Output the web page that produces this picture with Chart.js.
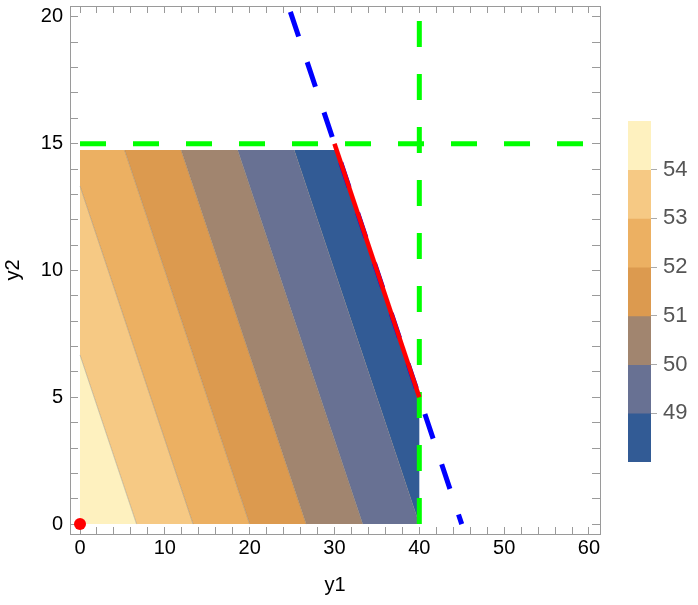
<!DOCTYPE html>
<html>
<head>
<meta charset="UTF-8">
<title>Contour y1 y2</title>
<script src="https://cdn.jsdelivr.net/npm/chart.js"></script>
<style>
  body { margin: 0; background: #fff; }
  #main { position: absolute; left: 0; top: 0; width: 610px; height: 605px; }
  #bar { position: absolute; left: 610px; top: 100px; width: 88px; height: 380px; }
</style>
</head>
<body>
<div id="main"><canvas id="plot"></canvas></div>
<div id="bar"><canvas id="legend"></canvas></div>

<script>
// colour bar: band limits and colours, light to dark
const legendTicks = [49, 50, 51, 52, 53, 54];
const bandLow  = [54, 53, 52, 51, 50, 49, 48];
const bandHigh = [55, 54, 53, 52, 51, 50, 49];
const bandColors = ['#fef1bf', '#f6c984', '#ecb062', '#dc9a4f', '#a1856f', '#687193', '#325b95'];

// band edges in the plot, as values of y1 + y2
const edgeSums = [0, 6.67, 13.33, 20, 26.67, 33.33, 40, 45];

// shaded region
const regionY1 = [0, 40];
const regionY2 = [0, 14.75];

// constraint lines
const capY2X = [0, 60],   capY2Y = [15, 15];
const capY1X = [40, 40],  capY1Y = [0, 20];
const sumX = [24.8, 45],  sumY = [20.2, 0];
const edgeX = [30, 40],   edgeY = [15, 5];
const optX = [0],         optY = [0];

// axis ticks
const xLabels = [0, 10, 20, 30, 40, 50, 60];
const yLabels = [0, 5, 10, 15, 20];
const xTicks = [], yTicks = [];
for (let v = 0; v <= 60; v += 2) xTicks.push(v);
for (let v = 0; v <= 20; v += 1) yTicks.push(v);

Chart.defaults.font.family = "'Liberation Sans', Arial, sans-serif";

const pts = (xs, ys) => xs.map((x, i) => ({ x: x, y: ys[i] }));

// cut a polygon with the line y1 + y2 = c
function clipSum(poly, c, keepAbove) {
  const out = [];
  for (let i = 0; i < poly.length; i++) {
    const p = poly[i], q = poly[(i + 1) % poly.length];
    const sp = p.x + p.y - c, sq = q.x + q.y - c;
    const inP = keepAbove ? sp >= 0 : sp <= 0;
    const inQ = keepAbove ? sq >= 0 : sq <= 0;
    if (inP) out.push(p);
    if (inP !== inQ) {
      const t = sp / (sp - sq);
      out.push({ x: p.x + t * (q.x - p.x), y: p.y + t * (q.y - p.y) });
    }
  }
  return out;
}

const rect = pts([regionY1[0], regionY1[1], regionY1[1], regionY1[0]],
                 [regionY2[0], regionY2[0], regionY2[1], regionY2[1]]);

const datasets = [];

datasets.push({ data: pts(optX, optY), showLine: false, pointRadius: 6, pointBackgroundColor: '#ff0000', pointBorderWidth: 0, order: 0 });
datasets.push({ data: pts(edgeX, edgeY), borderColor: '#ff0000', borderWidth: 4.5, pointRadius: 0, order: 1 });
datasets.push({ data: pts(sumX, sumY), borderColor: '#0000ff', borderWidth: 5, borderDash: [26, 27], pointRadius: 0, order: 2 });
datasets.push({ data: pts(capY2X, capY2Y), borderColor: '#00ff00', borderWidth: 5, borderDash: [26, 27], pointRadius: 0, order: 3 });
datasets.push({ data: pts(capY1X, capY1Y), borderColor: '#00ff00', borderWidth: 5, borderDash: [26, 27], pointRadius: 0, order: 3 });

// thin contour lines between bands
for (let i = 1; i < edgeSums.length - 1; i++) {
  const c = edgeSums[i];
  const top = Math.min(c, regionY2[1]);
  datasets.push({
    data: [{ x: c - top, y: top }, { x: Math.min(c, regionY1[1]), y: c - Math.min(c, regionY1[1]) }],
    borderColor: 'rgba(110,110,110,0.35)', borderWidth: 1, pointRadius: 0, order: 4
  });
}

// filled bands
for (let i = 0; i < bandColors.length; i++) {
  let poly = clipSum(clipSum(rect, edgeSums[i], true), edgeSums[i + 1], false);
  poly.push(poly[0]);
  datasets.push({
    data: poly, borderWidth: 0, borderColor: bandColors[i], backgroundColor: bandColors[i],
    fill: 'shape', pointRadius: 0, order: 5
  });
}

const frame = '#9a9a9a';
const tickSet = (list) => (s) => { s.ticks = list.map(v => ({ value: v })); };
const fitSize = (prop, size) => (s) => {
  s[prop] = size;
  s.paddingTop = 0; s.paddingBottom = 0; s.paddingLeft = 0; s.paddingRight = 0;
};

new Chart(document.getElementById('plot'), {
  type: 'line',
  data: { datasets: datasets },
  options: {
    responsive: true,
    maintainAspectRatio: false,
    animation: false,
    layout: { padding: { top: 4, right: 10, left: 0, bottom: 0 } },
    plugins: { legend: { display: false }, tooltip: { enabled: false } },
    scales: {
      x: {
        type: 'linear', position: 'bottom', min: -1.18, max: 61.3,
        afterBuildTicks: tickSet(xTicks),
        afterFit: fitSize('height', 71),
        ticks: { callback: v => xLabels.includes(v) ? String(v) : '', color: '#000', font: { size: 20 }, padding: 9, maxRotation: 0, autoSkip: false },
        grid: { drawOnChartArea: false, tickLength: -7, tickColor: frame },
        border: { color: frame },
        title: { display: true, text: 'y1', color: '#000', font: { size: 20 }, padding: { top: 0, bottom: 8 } }
      },
      xTop: {
        type: 'linear', position: 'top', min: -1.18, max: 61.3,
        afterBuildTicks: tickSet(xTicks),
        afterFit: fitSize('height', 0),
        ticks: { display: false },
        grid: { drawOnChartArea: false, tickLength: -7, tickColor: frame },
        border: { color: frame }
      },
      y: {
        type: 'linear', position: 'left', min: -0.39, max: 20.43,
        afterBuildTicks: tickSet(yTicks),
        afterFit: fitSize('width', 70),
        ticks: { callback: v => yLabels.includes(v) ? String(v) : '', color: '#000', font: { size: 20 }, padding: 15, autoSkip: false },
        grid: { drawOnChartArea: false, tickLength: -8, tickColor: frame },
        border: { color: frame },
        title: { display: true, text: 'y2', color: '#000', font: { size: 20 }, padding: { top: 1, bottom: 0 } }
      },
      yRight: {
        type: 'linear', position: 'right', min: -0.39, max: 20.43,
        afterBuildTicks: tickSet(yTicks),
        afterFit: fitSize('width', 0),
        ticks: { display: false },
        grid: { drawOnChartArea: false, tickLength: -8, tickColor: frame },
        border: { color: frame }
      }
    }
  }
});

new Chart(document.getElementById('legend'), {
  type: 'bar',
  data: {
    labels: [''],
    datasets: bandColors.map((c, i) => ({
      data: [[bandLow[i], bandHigh[i]]], backgroundColor: c,
      barPercentage: 1, categoryPercentage: 1, grouped: false
    }))
  },
  options: {
    responsive: true,
    maintainAspectRatio: false,
    animation: false,
    layout: { padding: { left: 18, top: 21, bottom: 18, right: 0 } },
    plugins: { legend: { display: false }, tooltip: { enabled: false } },
    scales: {
      x: { display: false },
      y: {
        position: 'right', min: 48, max: 55,
        afterBuildTicks: tickSet(legendTicks),
        afterFit: fitSize('width', 47),
        grid: { drawOnChartArea: false, tickLength: 6, tickColor: '#aaa' },
        border: { display: false },
        ticks: { color: '#555', font: { size: 22 }, padding: 6 }
      }
    }
  }
});
</script>
</body>
</html>
